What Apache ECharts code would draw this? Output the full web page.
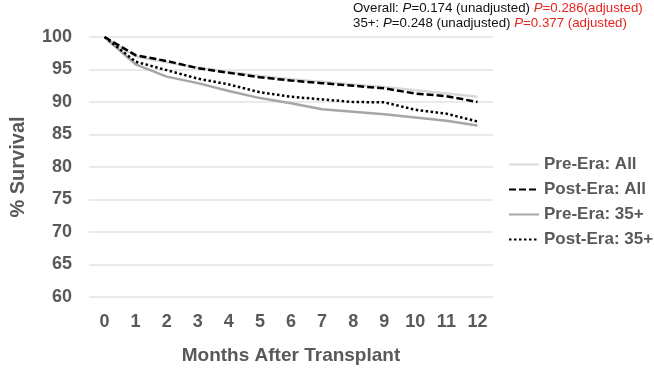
<!DOCTYPE html>
<html>
<head>
<meta charset="utf-8">
<script src="https://cdn.jsdelivr.net/npm/echarts@6/dist/echarts.min.js"></script>
<style>
html,body{margin:0;padding:0;background:#fff;}
#chart{width:654px;height:370px;}
</style>
</head>
<body>
<div id="chart"></div>
<script>
const months = ['0','1','2','3','4','5','6','7','8','9','10','11','12'];
const preAll   = [100, 97.0, 96.1, 95.3, 94.6, 94.0, 93.5, 93.1, 92.7, 92.3, 91.8, 91.3, 90.8];
const postAll  = [100, 97.2, 96.3, 95.2, 94.5, 93.8, 93.3, 92.9, 92.5, 92.1, 91.3, 90.9, 90.0];
const pre35    = [100, 95.8, 93.9, 92.9, 91.7, 90.6, 89.8, 88.9, 88.5, 88.1, 87.6, 87.1, 86.4];
const post35   = [100, 96.2, 94.9, 93.6, 92.7, 91.5, 90.8, 90.4, 90.0, 89.95, 88.8, 88.2, 87.0];
const seriesNames = ['Pre-Era: All', 'Post-Era: All', 'Pre-Era: 35+', 'Post-Era: 35+'];
const yTicks = [60, 65, 70, 75, 80, 85, 90, 95, 100];
const pOverall = ['0.174', '0.286'];
const p35 = ['0.248', '0.377'];

const txt = '#595959';
const font = 'Liberation Sans, Arial, sans-serif';
const chart = echarts.init(document.getElementById('chart'), null, {renderer: 'canvas'});

const mkSeries = (name, data, color, width, type, z) => ({
  name, type: 'line', data, symbol: 'none', showSymbol: false, z,
  lineStyle: {color, width, type, cap: 'butt'},
  itemStyle: {color},
  emphasis: {disabled: true}, animation: false
});

const richStyles = {
  n: {fontSize: 13.3, fontFamily: font, fill: '#111'},
  i: {fontSize: 13.3, fontFamily: font, fontStyle: 'italic', fill: '#111'},
  r: {fontSize: 13.3, fontFamily: font, fill: '#e8231d'},
  ri: {fontSize: 13.3, fontFamily: font, fontStyle: 'italic', fill: '#e8231d'}
};

chart.setOption({
  animation: false,
  grid: {left: 73, right: 161, top: 37, bottom: 62, containLabel: false},
  xAxis: {
    type: 'category', data: months, boundaryGap: true,
    name: 'Months After Transplant', nameLocation: 'middle', nameGap: 49,
    nameTextStyle: {color: txt, fontSize: 19, fontWeight: 'bold', fontFamily: font},
    axisLine: {show: false}, axisTick: {show: false},
    axisLabel: {color: txt, fontSize: 18, fontWeight: 'bold', fontFamily: font, margin: 16, interval: 0}
  },
  yAxis: {
    type: 'value', min: yTicks[0], max: yTicks[yTicks.length-1], interval: 5,
    name: '% Survival', nameLocation: 'middle', nameGap: 61,
    nameTextStyle: {color: txt, fontSize: 20, fontWeight: 'bold', fontFamily: font},
    axisLine: {show: false}, axisTick: {show: false},
    axisLabel: {color: txt, fontSize: 18, fontWeight: 'bold', fontFamily: font, margin: 17},
    splitLine: {lineStyle: {color: '#e3e3e3', width: 1.5}}
  },
  legend: {
    orient: 'vertical', left: 508, top: 156, itemWidth: 30, itemHeight: 14, itemGap: 8,
    data: seriesNames, padding: 0,
    itemStyle: {opacity: 0},
    textStyle: {color: txt, fontSize: 17, fontWeight: 'bold', fontFamily: font}
  },
  series: [
    mkSeries(seriesNames[0], preAll, '#d9d9d9', 2.5, 'solid', 1),
    mkSeries(seriesNames[2], pre35, '#a6a6a6', 2.5, 'solid', 2),
    mkSeries(seriesNames[1], postAll, '#000000', 2.5, [7, 3], 3),
    mkSeries(seriesNames[3], post35, '#000000', 2.5, [2.5, 2.5], 4)
  ],
  graphic: [
    {
      type: 'text', left: 353, top: 2,
      style: {
        text: '{n|Overall: }{i|P}{n|=' + pOverall[0] + ' (unadjusted) }{ri|P}{r|=' + pOverall[1] + '(adjusted)}',
        rich: richStyles
      }
    },
    {
      type: 'text', left: 353, top: 17,
      style: {
        text: '{n|35+: }{i|P}{n|=' + p35[0] + ' (unadjusted) }{ri|P}{r|=' + p35[1] + ' (adjusted)}',
        rich: richStyles
      }
    }
  ]
});
</script>
</body>
</html>
